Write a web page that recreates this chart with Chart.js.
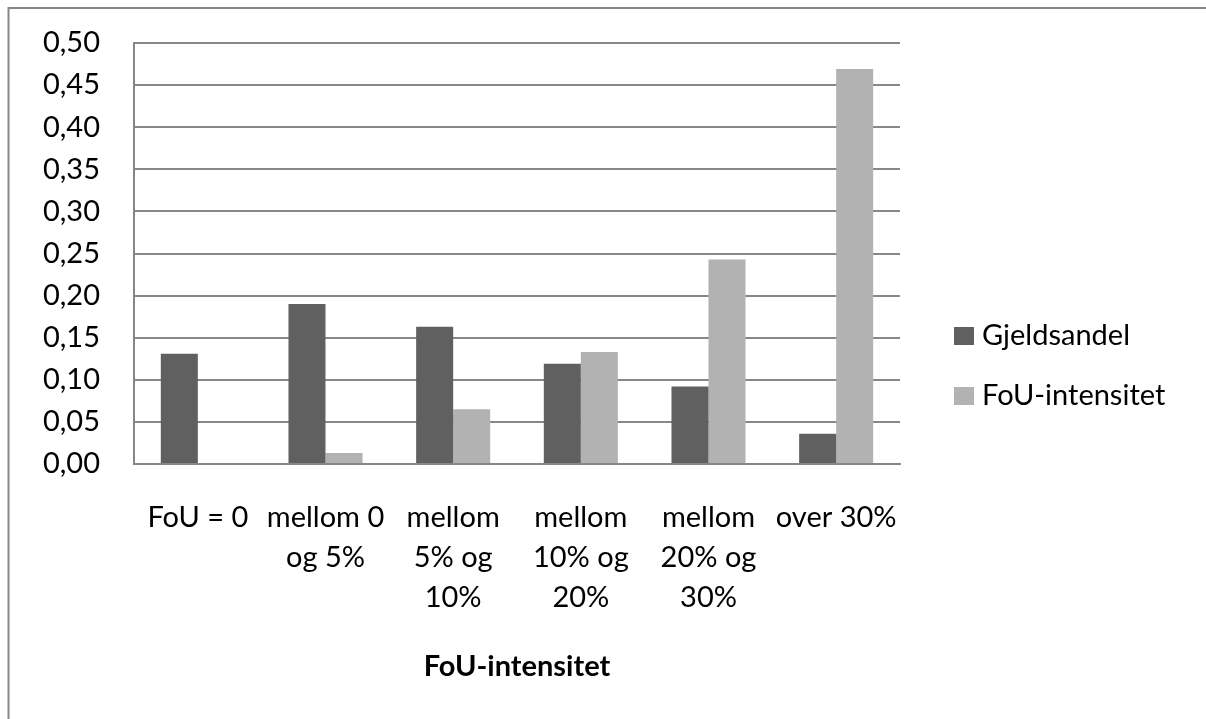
<!DOCTYPE html>
<html>
<head>
<meta charset="utf-8">
<script src="https://cdn.jsdelivr.net/npm/chart.js@4/dist/chart.umd.min.js"></script>
<style>
  html, body { margin: 0; padding: 0; background: #ffffff; }
  #wrap { width: 1206px; height: 719px; }
</style>
</head>
<body>
<div id="wrap"><canvas id="chart" width="1206" height="719"></canvas></div>
<script>
// Categories of R&D intensity (multi-line axis labels)
const categories = [
  ['FoU = 0'],
  ['mellom 0', 'og 5%'],
  ['mellom', '5% og', '10%'],
  ['mellom', '10% og', '20%'],
  ['mellom', '20% og', '30%'],
  ['over 30%']
];

// Series values
const gjeldsandel = [0.131, 0.190, 0.163, 0.119, 0.092, 0.036];
const fouIntensitet = [0.000, 0.013, 0.065, 0.133, 0.243, 0.469];

const seriesNames = ['Gjeldsandel', 'FoU-intensitet'];
const axisTitle = 'FoU-intensitet';

const FONT = 'Lato, "Open Sans", sans-serif';
const GRID = '#878787';

// Outer frame of the chart area
const framePlugin = {
  id: 'frame',
  beforeDraw(chart) {
    const ctx = chart.ctx;
    ctx.save();
    ctx.fillStyle = '#ffffff';
    ctx.fillRect(0, 0, chart.width, chart.height);
    ctx.strokeStyle = GRID;
    ctx.lineWidth = 2;
    ctx.strokeRect(8.5, 8, chart.width + 20, chart.height + 20);
    ctx.restore();
  }
};

// Legend drawn at the right, one row per dataset
const sideLegend = {
  id: 'sideLegend',
  afterDraw(chart) {
    const ctx = chart.ctx;
    const x0 = 954, yc0 = 336, step = 60;
    ctx.save();
    ctx.font = '29px ' + FONT;
    ctx.textBaseline = 'middle';
    ctx.textAlign = 'left';
    chart.data.datasets.forEach((ds, i) => {
      const yc = yc0 + i * step;
      ctx.fillStyle = ds.backgroundColor;
      ctx.fillRect(x0, yc - 9, 20, 18);
      ctx.fillStyle = '#000000';
      ctx.fillText(ds.label, x0 + 28, yc);
    });
    ctx.restore();
  }
};

new Chart(document.getElementById('chart'), {
  type: 'bar',
  data: {
    labels: categories,
    datasets: [
      { label: seriesNames[0], data: gjeldsandel, backgroundColor: '#606060' },
      { label: seriesNames[1], data: fouIntensitet, backgroundColor: '#b2b2b2' }
    ]
  },
  options: {
    responsive: false,
    animation: false,
    devicePixelRatio: 1,
    layout: { padding: { left: 0, right: 306, top: 43, bottom: 0 } },
    datasets: {
      bar: { categoryPercentage: 0.58, barPercentage: 1.0, borderWidth: 0 }
    },
    plugins: {
      legend: { display: false },
      tooltip: { enabled: false }
    },
    scales: {
      x: {
        afterFit(scale) { scale.height = 255; },
        grid: { display: false, drawTicks: false },
        border: { display: true, color: GRID, width: 2 },
        ticks: {
          color: '#000000',
          padding: 34,
          maxRotation: 0,
          autoSkip: false,
          font: { family: FONT, size: 29, lineHeight: 40 / 29 }
        },
        title: {
          display: true,
          text: axisTitle,
          color: '#000000',
          font: { family: FONT, size: 29, weight: 'bold', lineHeight: 1.2 },
          padding: { top: 0, bottom: 35 }
        }
      },
      y: {
        min: 0,
        max: 0.5,
        afterFit(scale) { scale.width = 134; },
        // invisible tick marks supply the gap between labels and axis line
        grid: { color: GRID, lineWidth: 2, drawTicks: true, tickLength: 34, tickColor: 'rgba(0,0,0,0)' },
        border: { display: true, color: GRID, width: 2 },
        ticks: {
          stepSize: 0.05,
          color: '#000000',
          padding: 0,
          font: { family: FONT, size: 29 },
          callback: (v) => Number(v).toFixed(2).replace('.', ',')
        }
      }
    }
  },
  plugins: [framePlugin, sideLegend]
});
</script>
</body>
</html>
